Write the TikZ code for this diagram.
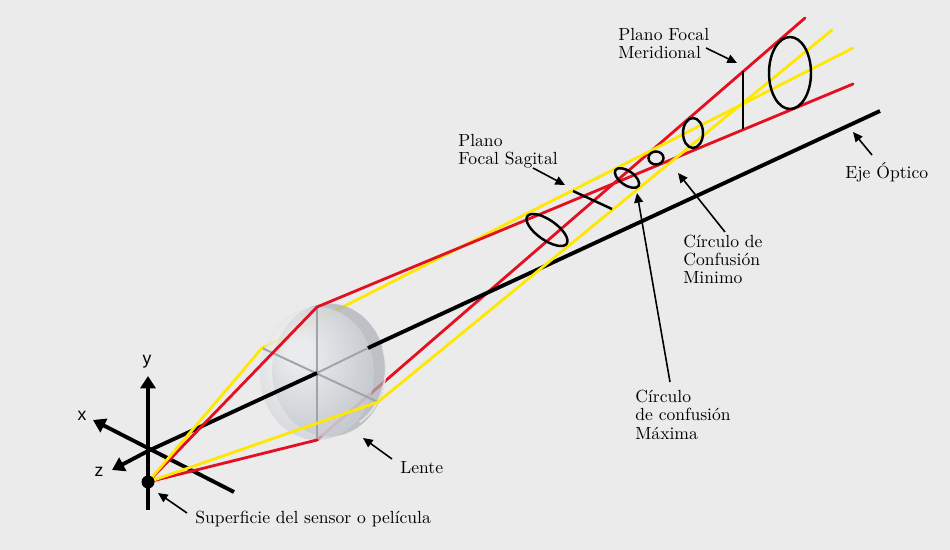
\documentclass[tikz,border=0pt]{standalone}
\usepackage{fontspec}
\newfontfamily\axisfont{Liberation Sans}
\usepackage{xcolor}
\definecolor{Back}{RGB}{236,235,235}
\definecolor{RayRed}{RGB}{226,16,32}
\definecolor{RayYellow}{RGB}{255,232,0}
\definecolor{LensEdge}{RGB}{200,205,211}
\definecolor{LensRim}{RGB}{172,177,183}
\definecolor{Spoke}{RGB}{160,164,170}
\usepackage{tikz}
\usetikzlibrary{arrows.meta}
\pgfdeclareradialshading{LensShade}{\pgfpoint{-9bp}{9bp}}{color(0bp)=(white);
  color(5bp)=(white!97!LensEdge); color(30bp)=(LensEdge); color(50bp)=(LensEdge)}
\tikzstyle{Ray}=[line width=1.6pt,line cap=round]
\tikzstyle{RayR}=[Ray,draw=RayRed]
\tikzstyle{RayY}=[Ray,draw=RayYellow]
\tikzstyle{OptAxis}=[line width=2.2pt,draw=black]
\tikzstyle{Axis}=[line width=2.2pt,-{Triangle[length=7pt,width=8.5pt]}]
\tikzstyle{Pointer}=[line width=0.9pt,-{Triangle[length=5.5pt,width=5pt]}]
\tikzstyle{Spot}=[draw=black,line width=1.4pt]
\tikzstyle{Dot}=[circle,fill=black,inner sep=0pt,minimum size=7.4pt]
\tikzstyle{Label}=[font=\fontsize{10}{10.3}\selectfont,align=left,
  inner sep=0pt,anchor=base west]
\tikzstyle{AxisLabel}=[font=\axisfont\fontsize{10}{10}\selectfont,inner sep=0pt]

\begin{document}
\begin{tikzpicture}[x=.02cm,y=-.02cm]
            \fill[Back](0,0)rectangle(950,550);
            \useasboundingbox(0,0)rectangle(950,550);
            % points
            \coordinate(O)at(148,451);
            \coordinate(C)at(317,373);
            \coordinate(E)at(880,111);
            \coordinate(LT)at(317,307);
            \coordinate(LB)at(317,440);
            \coordinate(LL)at(262,348);
            \coordinate(LR)at(378,402);
            \coordinate(LU)at(368,348);
            \coordinate(RA)at(853,84);
            \coordinate(RB)at(805,18);
            \coordinate(YA)at(853,48);
            \coordinate(YB)at(832,30);
            % rays behind the lens
            \draw[RayR](LB)--(RB);
            \draw[RayY](LL)--(YA);
            % lens
            \fill[LensRim,fill opacity=.72](329,370)ellipse[x radius=57,y radius=66.5];
            \draw[white!75!LensRim,line width=1pt,opacity=.8](329,370)
                ++(-20:57 and 66.5)arc[start angle=-20,end angle=60,x radius=52,y radius=62];
            \shade[shading=LensShade,fill opacity=.7](317,373.5)ellipse[x radius=57,y radius=66.5];
            \draw[Spoke,line width=1.1pt](LT)--(LB);
            \draw[Spoke,line width=1.1pt](LL)--(LR);
            \draw[Spoke,line width=1.1pt](C)--(LU);
            \draw[OptAxis](LU)--(E);
            % axes
            \node[AxisLabel](y)at(147,362){y};
            \node[AxisLabel](x)at(82,416){x};
            \node[AxisLabel](z)at(99,472){z};
            \coordinate(ya)at(148,510);
            \coordinate(yb)at(148,376);
            \coordinate(xa)at(234,492);
            \coordinate(xb)at(93,420);
            \coordinate(zb)at(112,470);
            \draw[Axis](ya)--(yb);
            \draw[Axis](xa)--(xb);
            \draw[Axis](O)--(zb);
            \draw[OptAxis](O)--(C);
            % rays in front
            \coordinate(P)at(148,482);
            \draw[RayR](P)--(LT)--(RA);
            \draw[RayR](P)--(LB);
            \draw[RayY](P)--(LL);
            \draw[RayY](P)--(LR)--(YB);
            \node[Dot](dot)at(P){};
            % focal planes and circles
            \coordinate(m1)at(743,71);
            \coordinate(m2)at(743,129);
            \draw[Spot](m1)--(m2);
            \coordinate(s1)at(573,191);
            \coordinate(s2)at(612,209);
            \draw[Spot](s1)--(s2);
            \draw[Spot](790,73)ellipse[x radius=21,y radius=36];
            \draw[Spot](693,133)ellipse[x radius=10,y radius=15];
            \draw[Spot](656,158)ellipse[x radius=7.5,y radius=6.5];
            \draw[Spot,rotate around={-35:(627,178)}](627,178)ellipse[x radius=14,y radius=7];
            \draw[Spot,rotate around={-35:(547,230)}](547,230)ellipse[x radius=24,y radius=10];
            % labels (base = last line)
            \node[Label](mer)at(618,59){Plano Focal\\Meridional};
            \node[Label](sag)at(458,165){Plano\\Focal Sagital};
            \node[Label](eje)at(845,179){Eje Óptico};
            \node[Label](min)at(683,284){Círculo de\\Confusión\\Minimo};
            \node[Label](max)at(635,439){Círculo\\de confusión\\Máxima};
            \node[Label](len)at(400,473){Lente};
            \node[Label](sup)at(195,523){Superficie del sensor o película};
            \coordinate(p1)at(706,48);  \coordinate(q1)at(737,63);
            \coordinate(p2)at(533,168); \coordinate(q2)at(565,185);
            \coordinate(p3)at(872,155); \coordinate(q3)at(853,132);
            \coordinate(p4)at(725,232); \coordinate(q4)at(678,173);
            \coordinate(p5)at(670,382); \coordinate(q5)at(637,193);
            \coordinate(p6)at(392,459); \coordinate(q6)at(363,438);
            \coordinate(p7)at(187,513); \coordinate(q7)at(158,493);
            \foreach \i in {1,...,7}{\draw[Pointer](p\i)--(q\i);}
        \end{tikzpicture}
\end{document}
